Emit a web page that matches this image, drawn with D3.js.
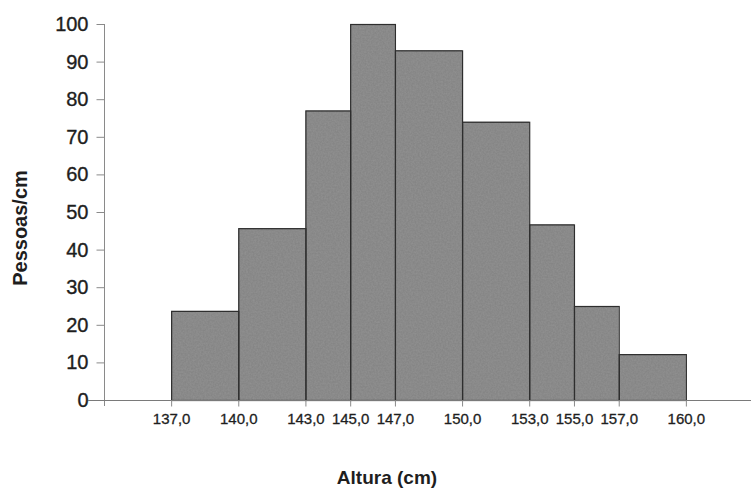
<!DOCTYPE html>
<html>
<head>
<meta charset="utf-8">
<script src="https://cdn.jsdelivr.net/npm/d3@7"></script>
<style>
  html, body { margin: 0; padding: 0; background: #fff; }
  svg { display: block; }
  text { font-family: "Liberation Sans", Arial, sans-serif; fill: #1e1e1e; }
</style>
</head>
<body>
<svg id="chart" width="751" height="488"></svg>
<script>
// Class boundaries (cm) and density (people per cm) of each height class
const classEdges = [137, 140, 143, 145, 147, 150, 153, 155, 157, 160];
const density = [23.7, 45.7, 77, 100, 93, 74, 46.7, 25, 12.2];
const yTicks = [0, 10, 20, 30, 40, 50, 60, 70, 80, 90, 100];
const xTickLabels = ["137,0", "140,0", "143,0", "145,0", "147,0", "150,0", "153,0", "155,0", "157,0", "160,0"];

const bins = density.map((d, i) => ({ x0: classEdges[i], x1: classEdges[i + 1], value: d }));

const svg = d3.select("#chart");

const x = d3.scaleLinear().domain([134, 163]).range([104, 753]);
const y = d3.scaleLinear().domain([0, 100]).range([400, 24]);

// subtle grain for the bar fill
const defs = svg.append("defs");
const grain = defs.append("filter").attr("id", "grain")
  .attr("x", 0).attr("y", 0).attr("width", 1).attr("height", 1);
grain.append("feTurbulence").attr("type", "fractalNoise")
  .attr("baseFrequency", 0.6).attr("numOctaves", 2).attr("seed", 3).attr("result", "n");
grain.append("feColorMatrix").attr("in", "n").attr("type", "matrix")
  .attr("values", "0 0 0 0 0.33  0 0 0 0 0.33  0 0 0 0 0.33  0 0 0 0.7 -0.15")
  .attr("result", "g");
grain.append("feComposite").attr("in", "g").attr("in2", "SourceGraphic").attr("operator", "atop");

// bars
svg.append("g").selectAll("rect")
  .data(bins)
  .join("rect")
  .attr("x", d => x(d.x0))
  .attr("y", d => y(d.value))
  .attr("width", d => x(d.x1) - x(d.x0))
  .attr("height", d => y(0) - y(d.value))
  .attr("fill", "#858585")
  .attr("filter", "url(#grain)");

svg.append("g").selectAll("rect")
  .data(bins)
  .join("rect")
  .attr("x", d => x(d.x0) + 0.5)
  .attr("y", d => y(d.value) + 0.5)
  .attr("width", d => x(d.x1) - x(d.x0))
  .attr("height", d => y(0) - y(d.value))
  .attr("fill", "none")
  .attr("stroke", "#2e2e2e")
  .attr("stroke-width", 1.2);

// y axis
const yAxis = d3.axisLeft(y).tickValues(yTicks).tickSize(8).tickPadding(8).tickFormat(d3.format("d"));
const gy = svg.append("g").attr("transform", "translate(104.5,0)").call(yAxis);
gy.select(".domain").attr("d", `M0,${y(100)}V${y(0) + 6}`).attr("stroke", "#8a8a8a");
gy.selectAll(".tick line").attr("stroke", "#8a8a8a");
gy.selectAll(".tick text").attr("font-size", 20).style("fill", "#1e1e1e")
  .style("stroke", "#1e1e1e").style("stroke-width", 0.35)
  .attr("font-family", "'Liberation Sans', Arial, sans-serif");

// x axis
const xAxis = d3.axisBottom(x).tickValues(classEdges).tickSize(6).tickPadding(7)
  .tickFormat((d, i) => xTickLabels[i]);
const gx = svg.append("g").attr("transform", `translate(0,${y(0) + 0.5})`).call(xAxis);
gx.select(".domain").attr("d", "M88,0H751").attr("stroke", "#7a7a7a").attr("stroke-width", 1.2);
gx.selectAll(".tick line").attr("stroke", "#8a8a8a");
gx.selectAll(".tick text").attr("font-size", 15).style("fill", "#1e1e1e")
  .style("stroke", "#1e1e1e").style("stroke-width", 0.3)
  .attr("font-family", "'Liberation Sans', Arial, sans-serif");

// axis titles
svg.append("text")
  .attr("x", 387).attr("y", 484)
  .attr("text-anchor", "middle")
  .attr("font-size", 19).attr("font-weight", "bold")
  .text("Altura (cm)");

svg.append("text")
  .attr("transform", "translate(27,228) rotate(-90)")
  .attr("text-anchor", "middle")
  .attr("font-size", 20).attr("font-weight", "bold")
  .text("Pessoas/cm");
</script>
</body>
</html>
